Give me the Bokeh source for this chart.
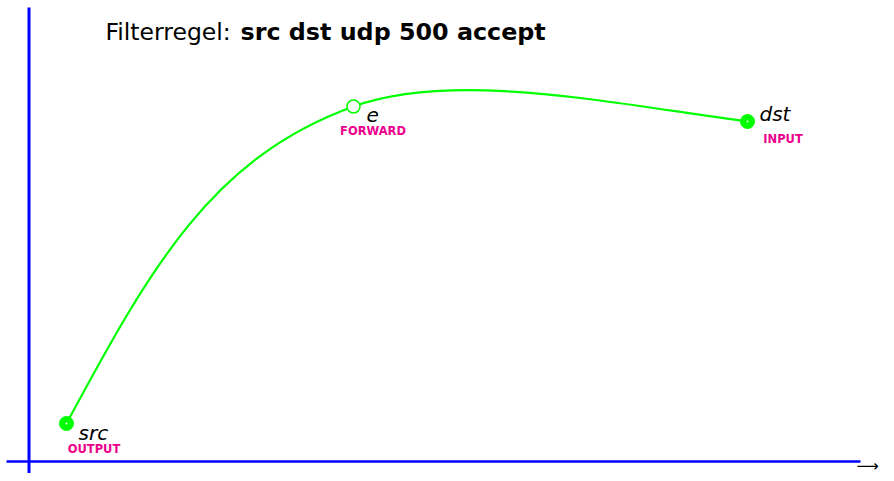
from bokeh.plotting import figure
from bokeh.models import Range1d, ColumnDataSource
from bokeh.core.properties import value
from bokeh.embed import file_html
from bokeh.resources import INLINE

# ---- data (diagram coordinates, y downward) ----
node_names = ["src", "e", "dst"]
node_x = [66, 353, 747]
node_y = [423, 106, 121]
node_filled = [True, False, True]
node_sub = ["OUTPUT", "FORWARD", "INPUT"]

# Bezier control handles of the smooth path (segment src->e, segment e->dst)
ctrl0_x = [151, 456]
ctrl0_y = [265, 69]
ctrl1_x = [212, 617]
ctrl1_y = [157, 104]

title_plain = "Filterregel: "
title_bold = "src dst udp 500 accept"

# ---- layout / style ----
FONT = value("DejaVu Sans")
GREEN = "#00ff00"
BLUE = "#0000ff"
PINK = "#EC008C"

p = figure(width=886, height=473, output_backend="svg", toolbar_location=None,
           x_range=Range1d(0, 886), y_range=Range1d(473, 0), min_border=0)
p.axis.visible = False
p.grid.visible = False
p.outline_line_color = None
p.background_fill_color = "white"
p.border_fill_color = "white"

# axes lines
p.line(x=[28.5, 28.5], y=[7, 481], line_color=BLUE, line_width=3)
p.line(x=[6, 860], y=[461, 461], line_color=BLUE, line_width=2.5)
p.text(x=[856], y=[465], text=["⟶"], text_font=FONT, text_font_size="15.5px",
       text_baseline="middle", text_align="left", text_color="black")

# curve
p.bezier(x0=node_x[:-1], y0=node_y[:-1], x1=node_x[1:], y1=node_y[1:],
         cx0=ctrl0_x, cy0=ctrl0_y, cx1=ctrl1_x, cy1=ctrl1_y,
         line_color=GREEN, line_width=2.2)

# nodes
fx = [x for x, f in zip(node_x, node_filled) if f]
fy = [y for y, f in zip(node_y, node_filled) if f]
ox = [x for x, f in zip(node_x, node_filled) if not f]
oy = [y for y, f in zip(node_y, node_filled) if not f]
p.scatter(fx, fy, size=14, fill_color=GREEN, line_color=GREEN, line_width=1)
p.scatter(fx, fy, size=2, fill_color="white", line_color=None)
p.scatter(ox, oy, size=13, fill_color="white", line_color=GREEN, line_width=1.5)

# labels
name_dx = [12, 13, 12]
name_dy = [17, 16, 0]
sub_dx = [27.5, 19.5, 35.5]
sub_dy = [30, 29, 22]
src_names = ColumnDataSource(dict(
    x=[x + d for x, d in zip(node_x, name_dx)],
    y=[y + d for y, d in zip(node_y, name_dy)],
    t=node_names))
p.text(x="x", y="y", text="t", source=src_names, text_font=FONT,
       text_font_size="20px", text_font_style="italic", text_color="black",
       text_baseline="alphabetic", text_align="left", y_offset=-8)
src_subs = ColumnDataSource(dict(
    x=[x + d for x, d in zip(node_x, sub_dx)],
    y=[y + d for y, d in zip(node_y, sub_dy)],
    t=node_sub))
p.text(x="x", y="y", text="t", source=src_subs, text_font=FONT,
       text_font_size="11.5px", text_font_style="bold", text_color=PINK,
       text_baseline="alphabetic", text_align="center", y_offset=-4.5)

# title
p.text(x=[105], y=[41], text=[title_plain], text_font=FONT, text_font_size="23.5px",
       text_color="black", text_baseline="alphabetic", text_align="left",
       y_offset=-9.5)
p.text(x=[240], y=[41], text=[title_bold], text_font=FONT, text_font_size="23.8px",
       text_font_style="bold", text_color="black", text_baseline="alphabetic",
       text_align="left", y_offset=-9.5)

open("out.html", "w").write(file_html(p, INLINE))
